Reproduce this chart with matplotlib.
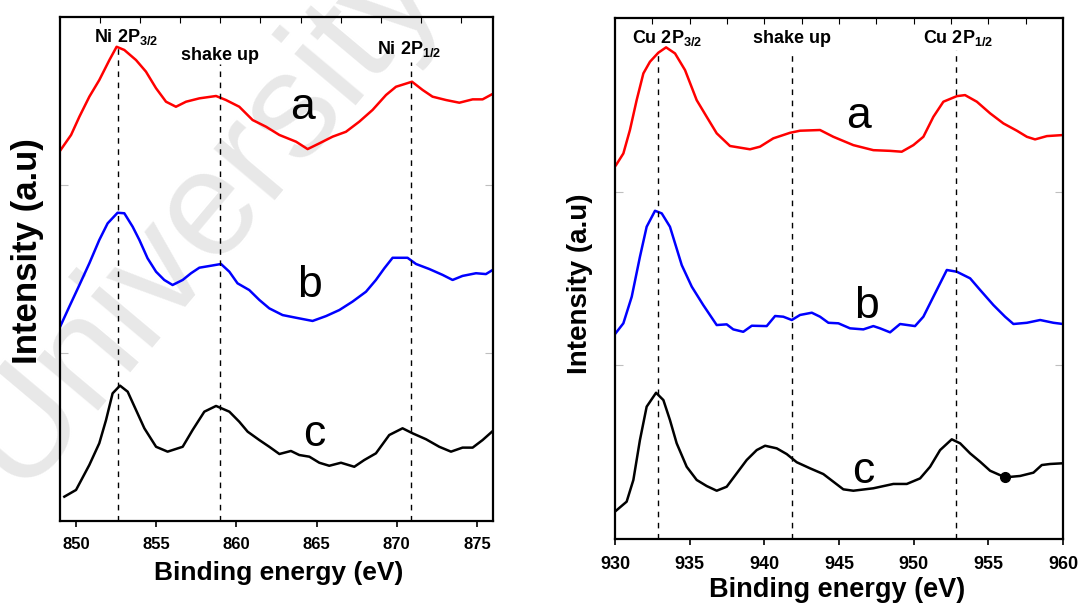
import matplotlib
matplotlib.use('Agg')
from matplotlib import pyplot as plt

plt.rcParams['font.family'] = ['Liberation Sans', 'DejaVu Sans']
plt.rcParams['mathtext.fontset'] = 'custom'
plt.rcParams['mathtext.rm'] = 'Liberation Sans:bold'
plt.rcParams['mathtext.default'] = 'rm'

# ---- Ni 2p spectra (left panel) ----
ni_a_x = [848.96, 849.69, 850.21, 850.83, 851.45, 852.08, 852.53, 853.01, 853.74, 854.36,
          854.99, 855.61, 856.23, 856.86, 857.69, 858.73, 859.35, 860.18, 861.01, 861.85,
          862.68, 863.72, 864.44, 865.17, 866.0, 866.83, 867.66, 868.49, 869.33, 869.95,
          870.95, 871.61, 872.23, 873.07, 873.9, 874.73, 875.35, 875.97]
ni_a_y = [2.196, 2.296, 2.405, 2.524, 2.623, 2.742, 2.821, 2.802, 2.742, 2.673,
          2.574, 2.494, 2.464, 2.494, 2.514, 2.528, 2.504, 2.464, 2.385, 2.345,
          2.296, 2.256, 2.212, 2.246, 2.286, 2.315, 2.375, 2.445, 2.534, 2.583,
          2.613, 2.564, 2.524, 2.504, 2.488, 2.508, 2.508, 2.540]

ni_b_x = [848.96, 849.58, 850.21, 850.83, 851.45, 851.97, 852.59, 853.01, 853.53, 853.95,
          854.46, 854.99, 855.5, 856.02, 856.65, 857.17, 857.69, 858.31, 859.04, 859.56,
          860.07, 860.8, 861.43, 862.05, 862.88, 863.72, 864.75, 865.59, 866.42, 867.24,
          868.08, 868.7, 869.22, 869.74, 870.67, 871.2, 872.03, 872.86, 873.48, 874.1,
          874.94, 875.56, 875.97]
ni_b_y = [1.145, 1.274, 1.403, 1.532, 1.671, 1.770, 1.833, 1.830, 1.750, 1.671,
          1.562, 1.482, 1.433, 1.403, 1.433, 1.473, 1.506, 1.516, 1.528, 1.482,
          1.413, 1.373, 1.314, 1.264, 1.224, 1.208, 1.189, 1.218, 1.254, 1.304,
          1.363, 1.433, 1.502, 1.565, 1.565, 1.528, 1.498, 1.463, 1.433, 1.457,
          1.473, 1.468, 1.492]

ni_c_x = [849.27, 850.0, 850.83, 851.45, 851.87, 852.28, 852.74, 853.22, 853.74, 854.26,
          854.99, 855.71, 856.65, 857.27, 858.0, 858.73, 859.56, 860.18, 860.7, 861.43,
          862.05, 862.68, 863.4, 863.92, 864.55, 865.17, 865.79, 866.52, 867.35, 867.97,
          868.7, 869.53, 870.36, 870.99, 871.82, 872.65, 873.38, 874.1, 874.73, 875.35,
          875.94]
ni_c_y = [0.143, 0.183, 0.332, 0.461, 0.599, 0.758, 0.804, 0.768, 0.659, 0.550,
          0.440, 0.411, 0.440, 0.540, 0.649, 0.683, 0.649, 0.589, 0.530, 0.480,
          0.440, 0.397, 0.415, 0.391, 0.381, 0.345, 0.327, 0.345, 0.321, 0.361,
          0.401, 0.510, 0.550, 0.520, 0.485, 0.440, 0.411, 0.435, 0.435, 0.480,
          0.530]

ni_lines = [852.6, 859.0, 870.9]
ni_line_top = [2.82, 2.72, 2.73]

# ---- Cu 2p spectra (right panel) ----
cu_a_x = [930.07, 930.56, 931.0, 931.45, 931.9, 932.34, 932.9, 933.42, 934.02, 934.69,
          935.47, 936.14, 936.81, 937.7, 939.04, 939.71, 940.6, 941.72, 942.39, 943.73,
          944.62, 945.96, 947.3, 948.42, 949.2, 949.98, 950.65, 951.32, 951.99, 952.89,
          953.44, 954.23, 955.12, 956.01, 956.91, 957.58, 958.13, 958.92, 960.0]
cu_a_y = [2.153, 2.220, 2.355, 2.527, 2.681, 2.748, 2.800, 2.831, 2.796, 2.700,
          2.527, 2.431, 2.336, 2.263, 2.244, 2.259, 2.307, 2.339, 2.351, 2.355,
          2.316, 2.268, 2.239, 2.235, 2.230, 2.268, 2.316, 2.431, 2.518, 2.550,
          2.556, 2.518, 2.451, 2.393, 2.351, 2.316, 2.301, 2.320, 2.326]

cu_b_x = [930.0, 930.56, 931.12, 931.67, 932.12, 932.68, 933.13, 933.68, 934.47, 935.14,
          935.91, 936.81, 937.48, 937.92, 938.59, 939.16, 940.16, 940.72, 941.27, 941.84,
          942.39, 943.18, 943.73, 944.29, 944.96, 945.74, 946.63, 947.3, 947.75, 948.42,
          949.09, 950.09, 950.65, 951.32, 952.22, 952.89, 953.78, 954.45, 955.34, 956.12,
          956.68, 957.58, 958.47, 959.36, 960.0]
cu_b_y = [1.180, 1.242, 1.395, 1.625, 1.798, 1.890, 1.875, 1.798, 1.577, 1.453,
          1.347, 1.232, 1.236, 1.207, 1.193, 1.228, 1.226, 1.284, 1.280, 1.261,
          1.290, 1.303, 1.280, 1.245, 1.242, 1.213, 1.207, 1.226, 1.213, 1.190,
          1.238, 1.226, 1.280, 1.395, 1.549, 1.539, 1.501, 1.434, 1.347, 1.280,
          1.238, 1.245, 1.261, 1.245, 1.238]

cu_c_x = [930.07, 930.78, 931.23, 931.67, 932.12, 932.75, 933.24, 933.68, 934.13, 934.8,
          935.47, 936.14, 936.81, 937.48, 938.15, 938.82, 939.49, 940.05, 940.83, 941.5,
          942.17, 943.06, 943.95, 944.62, 945.29, 945.96, 947.3, 948.64, 949.54, 950.43,
          951.1, 951.77, 952.55, 953.11, 953.78, 954.45, 955.12, 956.12, 957.13, 958.02,
          958.58, 959.14, 959.99]
cu_c_y = [0.163, 0.215, 0.340, 0.570, 0.762, 0.842, 0.800, 0.685, 0.551, 0.416,
          0.340, 0.305, 0.278, 0.301, 0.378, 0.455, 0.512, 0.537, 0.522, 0.489,
          0.442, 0.407, 0.374, 0.330, 0.286, 0.278, 0.292, 0.317, 0.317, 0.349,
          0.416, 0.512, 0.574, 0.551, 0.493, 0.445, 0.393, 0.355, 0.363, 0.382,
          0.426, 0.432, 0.436]
cu_dot = (956.12, 0.355)

cu_lines = [932.9, 941.85, 952.85]
cu_line_top = [2.80, 2.80, 2.815]

fig = plt.figure(figsize=(10.8, 6.05), dpi=100)
ax1 = fig.add_axes([60 / 1080, 1 - 520.7 / 605, 433 / 1080, 504 / 605])
ax2 = fig.add_axes([615 / 1080, 1 - 539 / 605, 448 / 1080, 521 / 605])

# watermark behind the left panel (cut by the figure edge, as in the source)
fig.text(200 / 1080, 1 - 215 / 605, 'University', rotation=50, fontsize=108,
         color='#e8e8e8', ha='center', va='center', zorder=-1,
         family=['Liberation Sans', 'DejaVu Sans'])


def style_axes(ax, xlim, xticks, lbl_size):
    ax.set_facecolor('none')
    ax.set_xlim(xlim)
    ax.set_ylim(0, 3)
    ax.set_xticks(xticks)
    ax.set_yticks([1, 2])
    ax.set_yticklabels([])
    for s in ax.spines.values():
        s.set_linewidth(1.6)
    ax.tick_params(axis='x', direction='out', length=4, width=1.2, pad=8,
                   labelsize=lbl_size, top=False)
    ax.tick_params(axis='y', direction='in', length=6, width=0.8, color='0.75',
                   left=True, right=True)
    for t in ax.get_xticklabels():
        t.set_fontweight('bold')
    top = ax.secondary_xaxis('top')
    top.set_xticks([v for v in [xlim[0] + 2.5 * k for k in range(0, 20)]
                    if xlim[0] < v < xlim[1]])
    top.tick_params(direction='in', length=4, width=0.8, labeltop=False)
    top.spines['top'].set_visible(False)


# ---- left panel ----
ax1.plot(ni_a_x, ni_a_y, color='red', lw=1.8)
ax1.plot(ni_b_x, ni_b_y, color='blue', lw=1.8)
ax1.plot(ni_c_x, ni_c_y, color='black', lw=1.8)
for xv, yt in zip(ni_lines, ni_line_top):
    ax1.plot([xv, xv], [0, yt], color='black', lw=1.0, ls=(0, (4, 4)))
style_axes(ax1, (849, 876), [850, 855, 860, 865, 870, 875], 12)

ax1.text(851.1, 2.851, r'Ni 2P$_{3/2}$', fontsize=13, fontweight='bold', va='baseline')
ax1.text(856.55, 2.742, 'shake up', fontsize=13, fontweight='bold', va='baseline')
ax1.text(868.77, 2.776, r'Ni 2P$_{1/2}$', fontsize=13, fontweight='bold', va='baseline')
ax1.text(864.13, 2.389, 'a', fontsize=32, ha='center', va='baseline')
ax1.text(864.55, 1.333, 'b', fontsize=32, ha='center', va='baseline')
ax1.text(864.86, 0.446, 'c', fontsize=32, ha='center', va='baseline')

ax1.set_xlabel('Binding energy (eV)', fontsize=19, fontweight='bold', va='center')
ax1.xaxis.set_label_coords(0.505, -0.104)
ax1.set_ylabel('Intensity (a.u)', fontsize=25, fontweight='bold', va='center')
ax1.yaxis.set_label_coords(-0.074, 0.535)

# ---- right panel ----
ax2.plot(cu_a_x, cu_a_y, color='red', lw=1.8)
ax2.plot(cu_b_x, cu_b_y, color='blue', lw=1.8)
ax2.plot(cu_c_x, cu_c_y, color='black', lw=1.8)
ax2.plot([cu_dot[0]], [cu_dot[1]], 'o', color='black', markersize=7)
for xv, yt in zip(cu_lines, cu_line_top):
    ax2.plot([xv, xv], [0, yt], color='black', lw=1.0, ls=(0, (4, 4)))
style_axes(ax2, (930, 960), [930, 935, 940, 945, 950, 955, 960], 13)

ax2.text(931.16, 2.857, r'Cu 2P$_{3/2}$', fontsize=13, fontweight='bold', va='baseline')
ax2.text(939.22, 2.857, 'shake up', fontsize=13, fontweight='bold', va='baseline')
ax2.text(950.61, 2.857, r'Cu 2P$_{1/2}$', fontsize=13, fontweight='bold', va='baseline')
ax2.text(946.28, 2.366, 'a', fontsize=32, ha='center', va='baseline')
ax2.text(946.86, 1.272, 'b', fontsize=32, ha='center', va='baseline')
ax2.text(946.61, 0.322, 'c', fontsize=32, ha='center', va='baseline')

ax2.set_xlabel('Binding energy (eV)', fontsize=19.5, fontweight='bold', va='center')
ax2.xaxis.set_label_coords(0.495, -0.098)
ax2.set_ylabel('Intensity (a.u)', fontsize=20, fontweight='bold', va='center')
ax2.yaxis.set_label_coords(-0.078, 0.49)

fig.savefig('out.png', dpi=100)
